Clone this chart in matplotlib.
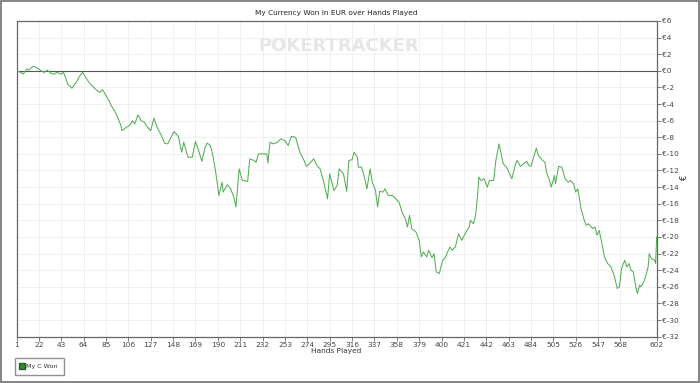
import matplotlib
matplotlib.use("Agg")
import matplotlib.pyplot as plt
from matplotlib.patches import Rectangle
from matplotlib.lines import Line2D
from matplotlib import font_manager

# cumulative winnings
hands = [1, 5, 7, 11, 13, 16, 18, 21, 24, 27, 30, 33, 36, 39, 43, 45, 47, 49, 53, 57,
         60, 63, 66, 69, 72, 75, 79, 82, 85, 87, 90, 93, 96, 99, 100, 104, 107, 110, 112, 115,
         118, 121, 124, 127, 130, 133, 137, 140, 143, 146, 149, 153, 156, 158, 162, 166, 169, 172, 175, 178,
         180, 183, 185, 188, 191, 194, 195, 199, 202, 205, 207, 210, 213, 218, 220, 224, 226, 228, 236, 237,
         239, 242, 246, 249, 253, 256, 259, 263, 267, 271, 273, 276, 280, 283, 286, 289, 293, 295, 299, 302,
         304, 308, 311, 313, 316, 318, 321, 322, 325, 328, 330, 333, 335, 338, 340, 342, 345, 347, 350, 354,
         357, 360, 363, 366, 368, 370, 372, 376, 379, 381, 383, 386, 388, 391, 393, 395, 398, 401, 404, 405,
         408, 410, 413, 416, 419, 423, 426, 427, 430, 432, 434, 435, 437, 440, 443, 445, 449, 451, 454, 458,
         461, 464, 466, 470, 471, 474, 477, 480, 482, 484, 487, 489, 491, 495, 497, 499, 501, 503, 506, 507,
         510, 513, 516, 519, 521, 524, 526, 528, 531, 534, 536, 538, 542, 544, 546, 548, 550, 553, 556, 559,
         562, 565, 567, 569, 572, 574, 576, 578, 580, 583, 584, 586, 587, 590, 592, 594, 595, 597, 600, 601,
         602]
won = [0, -0.2, -0.4, 0.2, 0.1, 0.5, 0.5, 0.3, 0, -0.2, 0.1, -0.3, -0.4, -0.2, -0.4, -0.2, -0.8, -1.6, -2.1, -1.4,
       -0.7, -0.2, -0.8, -1.4, -1.8, -2.2, -2.6, -2.3, -3.0, -3.4, -4.2, -4.8, -5.6, -6.6, -7.2, -6.8, -6.6, -6.0, -6.4, -5.3,
       -6.0, -6.2, -6.8, -7.2, -5.7, -6.8, -7.8, -8.7, -8.8, -8.0, -7.3, -7.9, -9.8, -8.6, -10.4, -10.4, -8.5, -9.6, -10.9, -9.2,
       -8.7, -9.0, -10.0, -12.2, -15.0, -13.4, -14.6, -13.7, -14.2, -15.2, -16.4, -11.8, -13.2, -13.3, -10.6, -10.8, -11.0, -10.0, -10.0, -11.1,
       -8.6, -8.8, -8.6, -8.2, -8.4, -9.0, -7.9, -8.0, -9.8, -10.8, -11.5, -11.2, -10.6, -11.4, -11.8, -13.2, -15.4, -12.4, -14.4, -13.8,
       -11.8, -12.4, -14.5, -10.8, -10.7, -9.8, -10.4, -11.6, -11.6, -13.0, -14.2, -11.8, -13.4, -14.4, -16.4, -14.5, -14.6, -14.2, -15.0, -15.0,
       -15.4, -15.8, -17.0, -17.8, -18.8, -17.4, -19.0, -19.4, -20.4, -22.4, -21.8, -22.4, -21.6, -22.5, -22.0, -24.2, -24.4, -22.8, -22.4, -22.0,
       -21.2, -21.6, -21.2, -19.6, -20.4, -19.4, -18.8, -18.0, -18.4, -17.4, -14.8, -12.8, -13.2, -13.0, -14.0, -13.2, -13.2, -10.8, -8.8, -11.2,
       -11.6, -12.4, -13.0, -11.0, -10.8, -11.5, -11.2, -10.9, -11.4, -11.5, -10.2, -9.3, -10.2, -10.8, -11.0, -12.4, -13.0, -14.0, -12.6, -13.6,
       -11.5, -11.6, -13.0, -13.4, -13.2, -13.6, -14.6, -14.2, -16.6, -18.0, -18.6, -18.4, -19.0, -18.8, -19.8, -19.2, -20.4, -22.4, -23.2, -23.6,
       -24.6, -26.2, -26.0, -23.8, -22.8, -23.6, -23.2, -24.0, -24.2, -26.4, -26.8, -25.8, -26.0, -25.4, -24.6, -23.6, -22.0, -22.6, -22.8, -23.2,
       -20.0]

x_ticks = [1, 22, 43, 64, 85, 106, 127, 148, 169, 190, 211, 232, 253, 274, 295, 316, 337,
           358, 379, 400, 421, 442, 463, 484, 505, 526, 547, 568, 602]
y_ticks = list(range(6, -33, -2))

installed = {f.name for f in font_manager.fontManager.ttflist}
wm_font = "Liberation Sans Narrow" if "Liberation Sans Narrow" in installed else "DejaVu Sans"
wm_size = 18 if wm_font == "Liberation Sans Narrow" else 13

fig = plt.figure(figsize=(7, 3.83), dpi=100)
fig.patches.append(Rectangle((0.002, 0.003), 0.996, 0.994, transform=fig.transFigure,
                             fill=False, edgecolor="#707070", linewidth=1.2))

ax = fig.add_axes([0.0236, 0.1209, 0.9145, 0.8245])
ax.plot(hands, won, color="#55ad55", linewidth=0.75, zorder=3)
ax.axhline(0, color="#555555", linewidth=0.8, zorder=2)

ax.set_xlim(1, 602)
ax.set_ylim(-32, 6)
ax.set_xticks(x_ticks)
ax.set_yticks(y_ticks)
ax.set_yticklabels(["€%d" % v for v in y_ticks])
ax.yaxis.tick_right()
ax.yaxis.set_label_position("right")
ax.tick_params(axis="both", labelsize=5.3, labelcolor="#444444", color="#666666",
               length=3, width=0.6, pad=1)
ax.grid(True, color="#eeeeee", linewidth=0.6, zorder=0)
for s in ax.spines.values():
    s.set_color("#666666")
    s.set_linewidth(0.9)

ax.set_xlabel("Hands Played", fontsize=5.3, color="#333333", labelpad=0)
ax.set_ylabel("€", fontsize=6, color="#333333", labelpad=1)
ax.set_title("My Currency Won in EUR over Hands Played", fontsize=5.3, color="#222222", pad=4.5)

ax.text(0.504, 0.92, "POKERTRACKER", transform=ax.transAxes, fontsize=wm_size,
        color="#e6e6e6", ha="center", va="center", family=wm_font,
        fontweight="bold", zorder=1)

handle = Line2D([], [], linestyle="none", marker="s", markersize=4,
                markerfacecolor="#2e8b2e", markeredgecolor="#1f5f1f")
fig.legend([handle], ["My C Won"], loc="lower left", bbox_to_anchor=(0.021, 0.022),
           fontsize=4.6, frameon=True, fancybox=False, edgecolor="#777777",
           handlelength=0.6, handletextpad=0.3, borderpad=0.9, borderaxespad=0,
           labelcolor="#333333")

fig.savefig("out.png", dpi=100)
